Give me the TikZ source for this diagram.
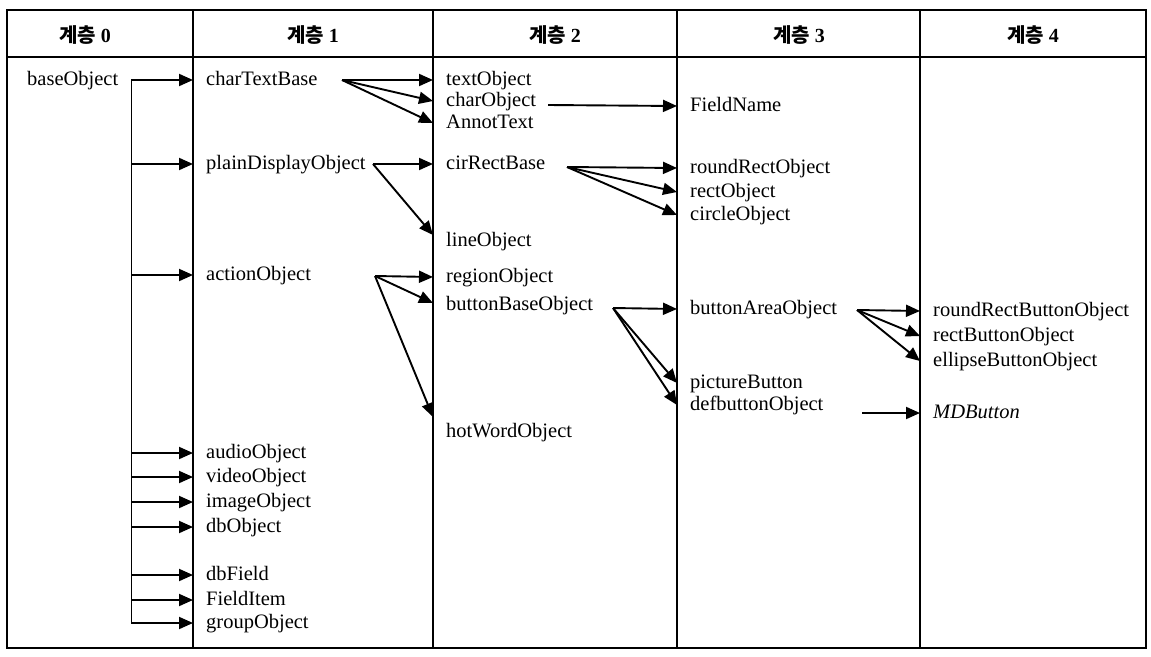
\documentclass[tikz,border=0pt]{standalone}
\usepackage{fontspec}
\setmainfont{Liberation Serif}
\newfontfamily\kofont{Noto Sans CJK KR}
\usetikzlibrary{arrows.meta,positioning}

\begin{document}
\begin{tikzpicture}[x=1pt,y=-1pt,
    every node/.style={font=\fontsize{20.5}{24}\selectfont},
    cls/.style={anchor=west,inner xsep=13pt,inner ysep=0pt,text height=14pt,text depth=4pt},
    hdr/.style={font=\fontsize{20}{24}\selectfont\bfseries},
    inh/.style={line width=1.9pt,-{Triangle[length=14pt,width=12pt]}},
    grid/.style={line width=2.2pt}]

    \useasboundingbox (0,0) rectangle (1151,656);

    % table frame
    \draw[grid] (7,10) rectangle (1146,648);
    \draw[grid] (7,57) -- (1146,57);
    \draw[grid] (193,10) -- (193,648);
    \draw[grid] (433,10) -- (433,648);
    \draw[grid] (677,10) -- (677,648);
    \draw[grid] (920,10) -- (920,648);

    % headings
    \node[hdr] (h0) at (85,35) {{\kofont 계층} 0};
    \node[hdr] (h1) at (313,35) {{\kofont 계층} 1};
    \node[hdr] (h2) at (555,35) {{\kofont 계층} 2};
    \node[hdr] (h3) at (799,35) {{\kofont 계층} 3};
    \node[hdr] (h4) at (1033,35) {{\kofont 계층} 4};

    % level 0
    \node[cls] (baseObject) at (14,80) {baseObject};

    % level 1
    \node[cls] (charTextBase) at (193,80) {charTextBase};
    \node[cls] (plainDisplayObject) at (193,164) {plainDisplayObject};
    \node[cls] (actionObject) at (193,275) {actionObject};
    \node[cls] (audioObject) at (193,453) {audioObject};
    \node[cls] (videoObject) at (193,477) {videoObject};
    \node[cls] (imageObject) at (193,502) {imageObject};
    \node[cls] (dbObject) at (193,527) {dbObject};
    \node[cls] (dbField) at (193,575) {dbField};
    \node[cls] (FieldItem) at (193,600) {FieldItem};
    \node[cls] (groupObject) at (193,623) {groupObject};

    % level 2
    \node[cls] (textObject) at (433,80) {textObject};
    \node[cls] (charObject) at (433,101) {charObject};
    \node[cls] (AnnotText) at (433,123) {AnnotText};
    \node[cls] (cirRectBase) at (433,164) {cirRectBase};
    \node[cls] (lineObject) at (433,241) {lineObject};
    \node[cls] (regionObject) at (433,277) {regionObject};
    \node[cls] (buttonBaseObject) at (433,305) {buttonBaseObject};
    \node[cls] (hotWordObject) at (433,432) {hotWordObject};

    % level 3
    \node[cls] (FieldName) at (677,106) {FieldName};
    \node[cls] (roundRectObject) at (677,168) {roundRectObject};
    \node[cls] (rectObject) at (677,192) {rectObject};
    \node[cls] (circleObject) at (677,215) {circleObject};
    \node[cls] (buttonAreaObject) at (677,309) {buttonAreaObject};
    \node[cls] (pictureButton) at (677,383) {pictureButton};
    \node[cls] (defbuttonObject) at (677,405) {defbuttonObject};

    % level 4
    \node[cls] (roundRectButtonObject) at (920,311) {roundRectButtonObject};
    \node[cls] (rectButtonObject) at (920,336) {rectButtonObject};
    \node[cls] (ellipseButtonObject) at (920,361) {ellipseButtonObject};
    \node[cls] (MDButton) at (920,413) {\textit{MDButton}};

    % level 0 -> level 1
    \foreach \c in {charTextBase,plainDisplayObject,actionObject,audioObject,videoObject,
                    imageObject,dbObject,dbField,FieldItem,groupObject}
        \draw[inh] (baseObject.east) |- (\c.west);

    % level 1 -> level 2
    \coordinate (ctbfork) at (342,80);
    \draw[inh] (ctbfork) -- (textObject.west);
    \draw[inh] (ctbfork) -- (charObject.west);
    \draw[inh] (ctbfork) -- (AnnotText.west);

    \coordinate (pdofork) at (373,164);
    \draw[inh] (pdofork) -- (cirRectBase.west);
    \draw[inh] (pdofork) -- ([yshift=6pt]lineObject.west);

    \coordinate (aofork) at (375,276);
    \draw[inh] (aofork) -- (regionObject.west);
    \draw[inh] (aofork) -- ([yshift=2pt]buttonBaseObject.west);
    \draw[inh] (aofork) -- ([yshift=15pt]hotWordObject.west);

    % level 2 -> level 3
    \coordinate (cofork) at (548,105);
    \draw[inh] (cofork) -- (FieldName.west);

    \coordinate (crbfork) at (567,167);
    \draw[inh] (crbfork) -- (roundRectObject.west);
    \draw[inh] (crbfork) -- (rectObject.west);
    \draw[inh] (crbfork) -- (circleObject.west);

    \coordinate (bbofork) at (613,308);
    \draw[inh] (bbofork) -- (buttonAreaObject.west);
    \draw[inh] (bbofork) -- (pictureButton.west);
    \draw[inh] (bbofork) -- (defbuttonObject.west);

    % level 3 -> level 4
    \coordinate (baofork) at (857,310);
    \draw[inh] (baofork) -- (roundRectButtonObject.west);
    \draw[inh] (baofork) -- (rectButtonObject.west);
    \draw[inh] (baofork) -- (ellipseButtonObject.west);

    \coordinate (dbofork) at (862,413);
    \draw[inh] (dbofork) -- (MDButton.west);

\end{tikzpicture}
\end{document}
